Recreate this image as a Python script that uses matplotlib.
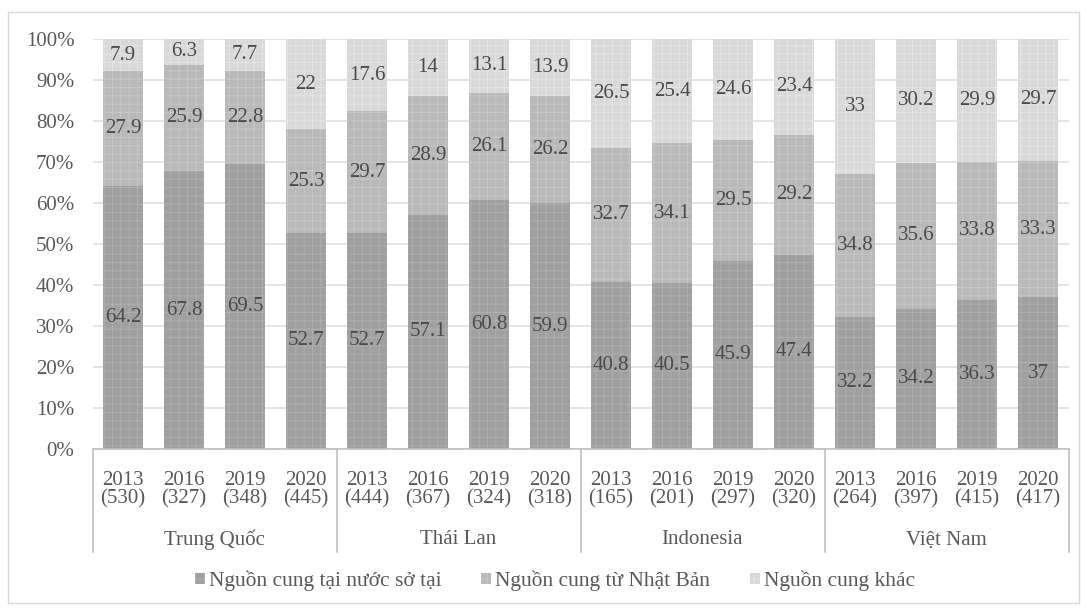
import matplotlib.pyplot as plt
from matplotlib.patches import Rectangle
from matplotlib.transforms import blended_transform_factory
import numpy as np

countries = ["Trung Quốc", "Thái Lan", "Indonesia", "Việt Nam"]
years = ["2013", "2016", "2019", "2020"]
counts = [530, 327, 348, 445, 444, 367, 324, 318,
          165, 201, 297, 320, 264, 397, 415, 417]

local = [64.2, 67.8, 69.5, 52.7, 52.7, 57.1, 60.8, 59.9,
         40.8, 40.5, 45.9, 47.4, 32.2, 34.2, 36.3, 37]
japan = [27.9, 25.9, 22.8, 25.3, 29.7, 28.9, 26.1, 26.2,
         32.7, 34.1, 29.5, 29.2, 34.8, 35.6, 33.8, 33.3]
other = [7.9, 6.3, 7.7, 22, 17.6, 14, 13.1, 13.9,
         26.5, 25.4, 24.6, 23.4, 33, 30.2, 29.9, 29.7]

series_names = ["Nguồn cung tại nước sở tại", "Nguồn cung từ Nhật Bản", "Nguồn cung khác"]
colors = ["#a0a0a0", "#b9b9b9", "#d9d9d9"]
hatch_colors = ["#b0b0b0", "#c8c8c8", "#e6e6e6"]

plt.rcParams["font.family"] = ["Liberation Serif", "DejaVu Serif"]
plt.rcParams["hatch.linewidth"] = 0.6

W, H = 1081, 612
fig = plt.figure(figsize=(W / 100, H / 100), dpi=100)
ax = fig.add_axes([92.5 / W, 1 - 449 / H, 976 / W, 410 / H])

# outer chart border
fig.patches.append(Rectangle((8 / W, 1 - 603 / H), 1071 / W, 591 / H,
                             transform=fig.transFigure, fill=False,
                             edgecolor="#d9d9d9", linewidth=1.0))

x = np.arange(len(local))
width = 0.66
bottom = np.zeros(len(local))
for vals, name, col, hc in zip([local, japan, other], series_names, colors, hatch_colors):
    vals = np.array(vals)
    ax.bar(x, vals / 100, width, bottom=bottom / 100, color=col, label=name,
           zorder=2, edgecolor=hc, linewidth=0, hatch="++")
    for xi, b, v in zip(x, bottom, vals):
        ax.text(xi, (b + v / 2) / 100, f"{v:g}", ha="center", va="center",
                fontsize=15, color="#4a4a4a", zorder=3)
    bottom += vals

ax.set_xlim(-0.5, len(local) - 0.5)
ax.set_ylim(0, 1)
yt = np.arange(0, 1.01, 0.1)
ax.set_yticks(yt)
ax.set_yticklabels([f"{int(round(t * 100))}%" for t in yt])
ax.yaxis.grid(True, color="#e0e0e0", linewidth=1.2, zorder=0)
ax.set_axisbelow(True)
for s in ["top", "right", "left"]:
    ax.spines[s].set_visible(False)
ax.spines["bottom"].set_color("#c0c0c0")
ax.spines["bottom"].set_linewidth(1.2)
ax.tick_params(axis="y", length=0, labelsize=15, labelcolor="#595959", pad=13)
ax.tick_params(axis="x", length=0, labelsize=15, labelcolor="#595959", pad=16)

ax.set_xticks(x)
ax.set_xticklabels([f"{years[i % 4]}\n({c})" for i, c in enumerate(counts)],
                   linespacing=0.95)

trans = blended_transform_factory(ax.transData, ax.transAxes)
for k in range(len(countries) + 1):
    xs = k * 4 - 0.5
    ax.plot([xs, xs], [0, -103 / 410], transform=trans, color="#c0c0c0",
            linewidth=1.2, clip_on=False)
for k, name in enumerate(countries):
    ax.text(k * 4 + 1.5, -91 / 410, name, transform=trans, ha="center", va="center",
            fontsize=15, color="#595959")

fig.legend(loc="center", bbox_to_anchor=(555 / W, 1 - 581 / H), ncol=3,
           frameon=False, fontsize=15.5, handlelength=0.45, handleheight=0.45,
           handletextpad=0.2, columnspacing=1.85, labelcolor="#595959")

fig.savefig("out.png", dpi=100)
